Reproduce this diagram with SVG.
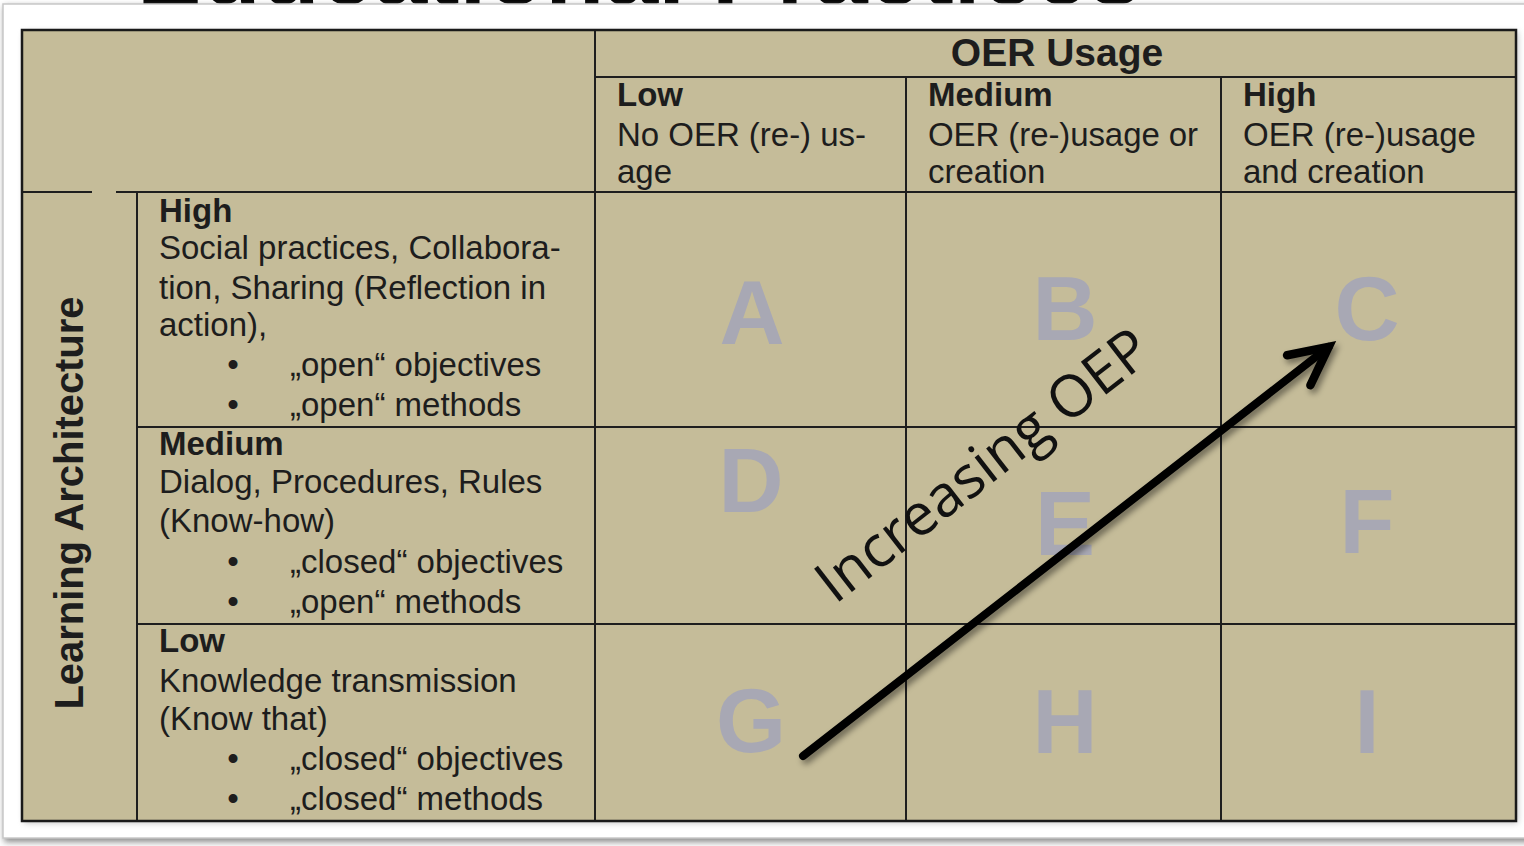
<svg xmlns="http://www.w3.org/2000/svg" width="1524" height="846" viewBox="0 0 1524 846">
  <style>
    .t { font-family: "Liberation Sans", Arial, sans-serif; font-size: 33px; fill: #1d1d1d; }
    .b { font-weight: bold; }
    .head { font-size: 39px; }
    .axis { font-size: 40px; }
    .grid { stroke: #1e1e1e; stroke-width: 2; fill: none; }
    .big { font-family: "Liberation Sans", Arial, sans-serif; font-size: 90px; font-weight: bold; fill: #a8a8b4; text-anchor: middle; }
    .bul { text-anchor: middle; }
  </style>
  <defs>
    <filter id="soft" x="-10%" y="-10%" width="120%" height="120%">
      <feGaussianBlur stdDeviation="3"/>
    </filter>
    <filter id="arrowShadow" x="-10%" y="-10%" width="130%" height="130%">
      <feDropShadow dx="3" dy="4" stdDeviation="3" flood-color="#000" flood-opacity="0.45"/>
    </filter>
    <marker id="head" viewBox="-45 -25 55 50" refX="0" refY="0" markerWidth="55" markerHeight="50" markerUnits="userSpaceOnUse" orient="auto">
      <path d="M-38,-19 L0,0 L-38,19" fill="none" stroke="#000" stroke-width="8.5" stroke-linejoin="miter" stroke-linecap="round"/>
    </marker>
  </defs>

  <!-- page background and cut-off heading -->
  <rect x="0" y="0" width="1524" height="846" fill="#ffffff"/>
  <text x="137" y="4" font-family="'Liberation Sans', Arial, sans-serif" font-size="100" font-weight="bold" fill="#000" textLength="1005" lengthAdjust="spacingAndGlyphs">Educational Practices</text>

  <!-- framed sheet with drop shadow -->
  <g id="sheet">
    <rect x="4" y="6" width="1540" height="836" fill="#8a8a8a" filter="url(#soft)"/>
    <rect x="3" y="4" width="1540" height="834" fill="#ffffff" stroke="#c8c8c8" stroke-width="1.5"/>
  </g>

  <!-- table body -->
  <g id="table">
    <rect x="24" y="32" width="1494" height="791" fill="#9a9a9a" opacity="0.6" filter="url(#soft)"/>
    <rect x="22" y="30" width="1494" height="791" fill="#c5bc99"/>
    <line class="grid" x1="595" y1="30" x2="595" y2="821"/>
    <line class="grid" x1="595" y1="77" x2="1516" y2="77"/>
    <line class="grid" x1="906" y1="77" x2="906" y2="821"/>
    <line class="grid" x1="1221" y1="77" x2="1221" y2="821"/>
    <line class="grid" x1="22" y1="192" x2="92" y2="192"/>
    <line class="grid" x1="116" y1="192" x2="1516" y2="192"/>
    <line class="grid" x1="137" y1="192" x2="137" y2="821"/>
    <line class="grid" x1="137" y1="427" x2="1516" y2="427"/>
    <line class="grid" x1="137" y1="624" x2="1516" y2="624"/>
    <rect x="22" y="30" width="1494" height="791" fill="none" stroke="#1a1a1a" stroke-width="2.5"/>
  </g>

  <!-- column headers -->
  <g id="oer-usage">
    <text class="t b head" x="1057" y="66" text-anchor="middle">OER Usage</text>
  </g>
  <g id="col-low">
    <text class="t b" x="617" y="106">Low</text>
    <text class="t" x="617" y="146" textLength="249">No OER (re-) us-</text>
    <text class="t" x="617" y="183">age</text>
  </g>
  <g id="col-medium">
    <text class="t b" x="928" y="106">Medium</text>
    <text class="t" x="928" y="146" textLength="270">OER (re-)usage or</text>
    <text class="t" x="928" y="183">creation</text>
  </g>
  <g id="col-high">
    <text class="t b" x="1243" y="106">High</text>
    <text class="t" x="1243" y="146">OER (re-)usage</text>
    <text class="t" x="1243" y="183">and creation</text>
  </g>

  <!-- row axis label -->
  <g id="learning-architecture">
    <text class="t b axis" x="0" y="0" text-anchor="middle" textLength="413" transform="translate(83 503) rotate(-90)">Learning Architecture</text>
  </g>

  <!-- row headers -->
  <g id="row-high">
    <text class="t b" x="159" y="222">High</text>
    <text class="t" x="159" y="259">Social practices, Collabora-</text>
    <text class="t" x="159" y="299">tion, Sharing (Reflection in</text>
    <text class="t" x="159" y="336">action),</text>
    <text class="t bul" x="233" y="376">•</text>
    <text class="t" x="290" y="376">„open“ objectives</text>
    <text class="t bul" x="233" y="416">•</text>
    <text class="t" x="290" y="416">„open“ methods</text>
  </g>
  <g id="row-medium">
    <text class="t b" x="159" y="455">Medium</text>
    <text class="t" x="159" y="493">Dialog, Procedures, Rules</text>
    <text class="t" x="159" y="532">(Know-how)</text>
    <text class="t bul" x="233" y="573">•</text>
    <text class="t" x="290" y="573">„closed“ objectives</text>
    <text class="t bul" x="233" y="613">•</text>
    <text class="t" x="290" y="613">„open“ methods</text>
  </g>
  <g id="row-low">
    <text class="t b" x="159" y="652">Low</text>
    <text class="t" x="159" y="692">Knowledge transmission</text>
    <text class="t" x="159" y="730">(Know that)</text>
    <text class="t bul" x="233" y="770">•</text>
    <text class="t" x="290" y="770">„closed“ objectives</text>
    <text class="t bul" x="233" y="810">•</text>
    <text class="t" x="290" y="810">„closed“ methods</text>
  </g>

  <!-- cell letters -->
  <g id="cells">
    <text id="cell-a" class="big" x="752" y="344">A</text>
    <text id="cell-b" class="big" x="1065" y="340">B</text>
    <text id="cell-c" class="big" x="1367" y="340">C</text>
    <text id="cell-d" class="big" x="751" y="512">D</text>
    <text id="cell-e" class="big" x="1065" y="555">E</text>
    <text id="cell-f" class="big" x="1367" y="553">F</text>
    <text id="cell-g" class="big" x="751" y="752">G</text>
    <text id="cell-h" class="big" x="1065" y="753">H</text>
    <text id="cell-i" class="big" x="1367" y="753">I</text>
  </g>

  <!-- trend arrow -->
  <g id="connectors" filter="url(#arrowShadow)">
    <line x1="803" y1="756" x2="1328.7" y2="346.9" stroke="#000" stroke-width="8" stroke-linecap="round" marker-end="url(#head)"/>
  </g>
  <g id="arrow-label">
    <text x="0" y="0" font-family="'Open Sans', 'Noto Sans', sans-serif" font-size="58" fill="#111" text-anchor="middle" transform="translate(995 481) rotate(-37.8)">Increasing OEP</text>
  </g>
</svg>
